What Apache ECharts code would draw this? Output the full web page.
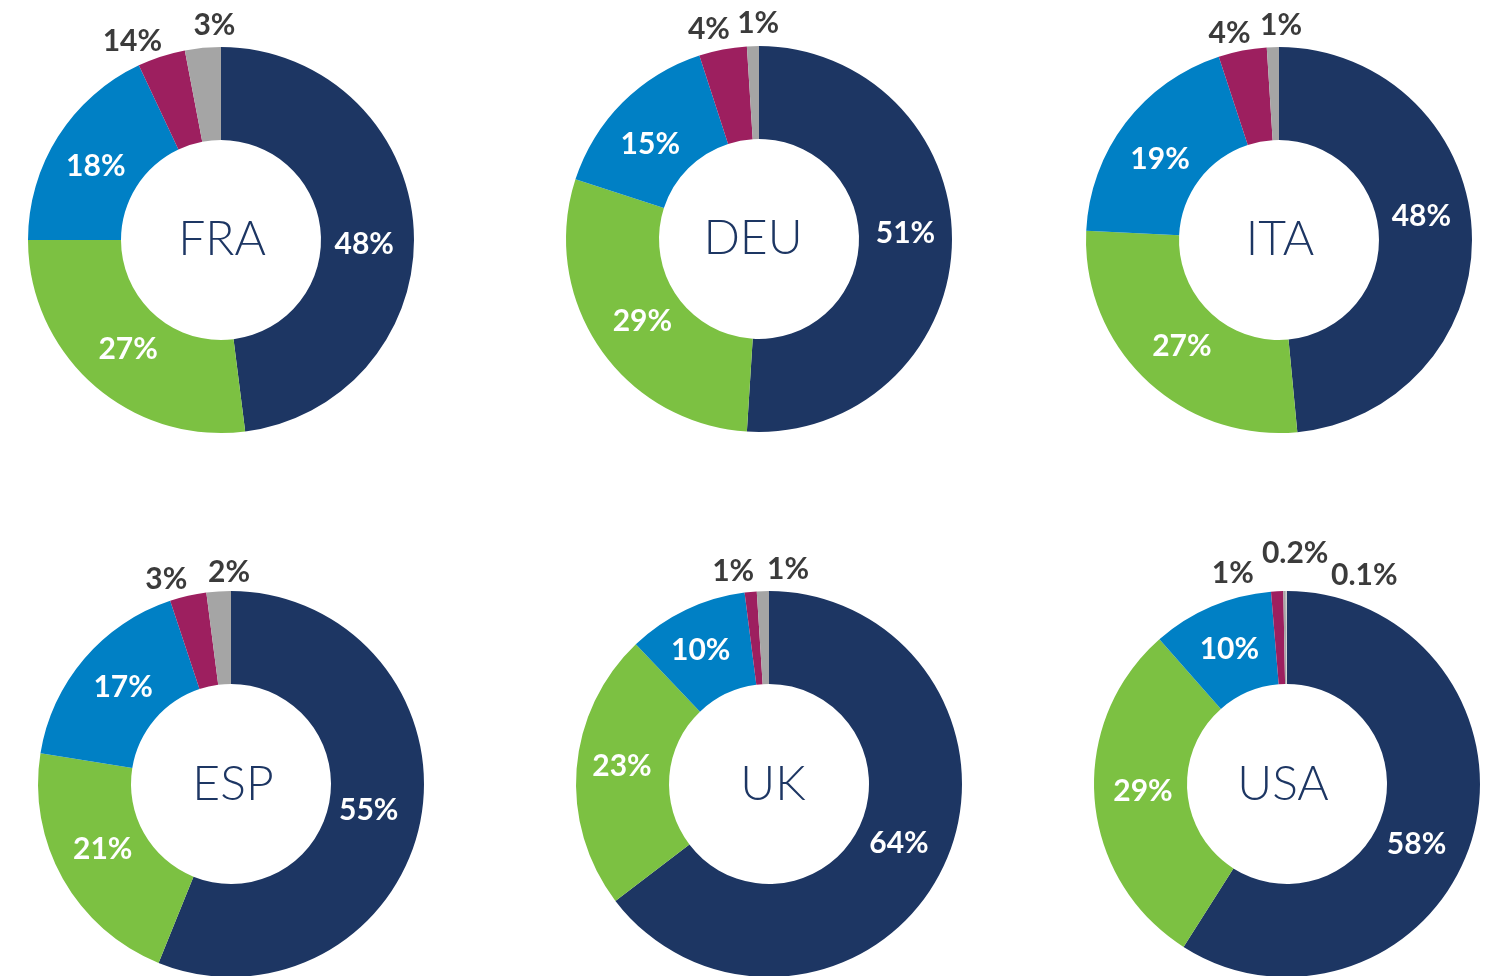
<!DOCTYPE html>
<html>
<head>
<meta charset="utf-8">
<script src="https://cdn.jsdelivr.net/npm/echarts@6/dist/echarts.min.js"></script>
<style>
  html, body { margin: 0; padding: 0; background: #fff; }
  #chart { width: 1497px; height: 976px; }
</style>
</head>
<body>
<div id="chart"></div>
<script>
// slices, clockwise from 12 o'clock
const countries = ['FRA', 'DEU', 'ITA', 'ESP', 'UK', 'USA'];
const fraValues = [48, 27, 18, 4, 3];
const deuValues = [51, 29, 15, 4, 1];
const itaValues = [48, 27, 19, 4, 1];
const espValues = [55, 21, 17, 3, 2];
const ukValues = [64, 23, 10, 1, 1];
const usaValues = [58, 29, 10, 1, 0.2, 0.1];
// printed labels (FRA magenta is printed as 14% in the original)
const fraLabels = ['48%', '27%', '18%', '14%', '3%'];
const deuLabels = ['51%', '29%', '15%', '4%', '1%'];
const itaLabels = ['48%', '27%', '19%', '4%', '1%'];
const espLabels = ['55%', '21%', '17%', '3%', '2%'];
const ukLabels = ['64%', '23%', '10%', '1%', '1%'];
const usaLabels = ['58%', '29%', '10%', '1%', '0.2%', '0.1%'];

const values = [fraValues, deuValues, itaValues, espValues, ukValues, usaValues];
const labels = [fraLabels, deuLabels, itaLabels, espLabels, ukLabels, usaLabels];

const colors = ['#1d3663', '#7cc142', '#0080c5', '#9d1f5f', '#a5a5a5', '#cfcfcf'];
const centers = [[221, 240], [759, 239], [1279, 240], [231, 784], [769, 784], [1287, 784]];
// label nudges (px) per slice, the small outside ones are spread so they don't collide
const nudges = [
  [[-6, 14], [6, -3], [1, 6], [-21, 10], [14, 3]],
  [[-3, -10], [7, -2], [-3, 11], [-9, 5], [6, 3]],
  [[-7, -17], [6, -2], [0, 10], [-8, 8], [9, 4]],
  [[-9, -2], [2, -8], [6, 0], [-16, 9], [12, 7]],
  [[-4, -7], [2, -6], [-4, 1], [-15, 5], [26, 4]],
  [[-14, 19], [5, -4], [1, 3], [-43, 8], [11, -12], [78, 10]]
];
const titleNudges = [[1, 0], [-6, 0], [1, 0], [2, 1], [4, 1], [-4, 1]];

const chart = echarts.init(document.getElementById('chart'));
const series = [];
const titles = [];

countries.forEach((name, c) => {
  const vals = values[c];
  const txt = labels[c];
  // donut ring
  series.push({
    type: 'pie',
    center: centers[c],
    radius: [100, 193],
    startAngle: 90,
    clockwise: true,
    avoidLabelOverlap: false,
    silent: true,
    labelLine: { show: false },
    data: vals.map((v, i) => ({
      value: v,
      name: name + i,
      itemStyle: { color: colors[i] },
      label: {
        show: i < 3,
        position: 'inside',
        formatter: txt[i],
        color: '#ffffff',
        fontFamily: 'Lato',
        fontWeight: 'bold',
        fontSize: 30,
        offset: nudges[c][i]
      }
    }))
  });
  // invisible outer ring carrying the small-slice labels
  series.push({
    type: 'pie',
    center: centers[c],
    radius: [193, 239],
    startAngle: 90,
    clockwise: true,
    avoidLabelOverlap: false,
    silent: true,
    labelLine: { show: false },
    data: vals.map((v, i) => ({
      value: v,
      name: name + 'o' + i,
      itemStyle: { color: 'transparent' },
      label: {
        show: i >= 3,
        position: 'inside',
        formatter: txt[i],
        color: '#3b3b3b',
        fontFamily: 'Lato',
        fontWeight: 'bold',
        fontSize: 30,
        offset: nudges[c][i]
      }
    }))
  });
  titles.push({
    text: name,
    left: centers[c][0] + titleNudges[c][0],
    top: centers[c][1] + titleNudges[c][1],
    padding: 0,
    textAlign: 'center',
    textVerticalAlign: 'middle',
    textStyle: {
      color: '#1d3663',
      fontFamily: 'Lato',
      fontWeight: 300,
      fontSize: 48
    }
  });
});

chart.setOption({
  animation: false,
  backgroundColor: '#ffffff',
  title: titles,
  series: series
});
</script>
</body>
</html>
